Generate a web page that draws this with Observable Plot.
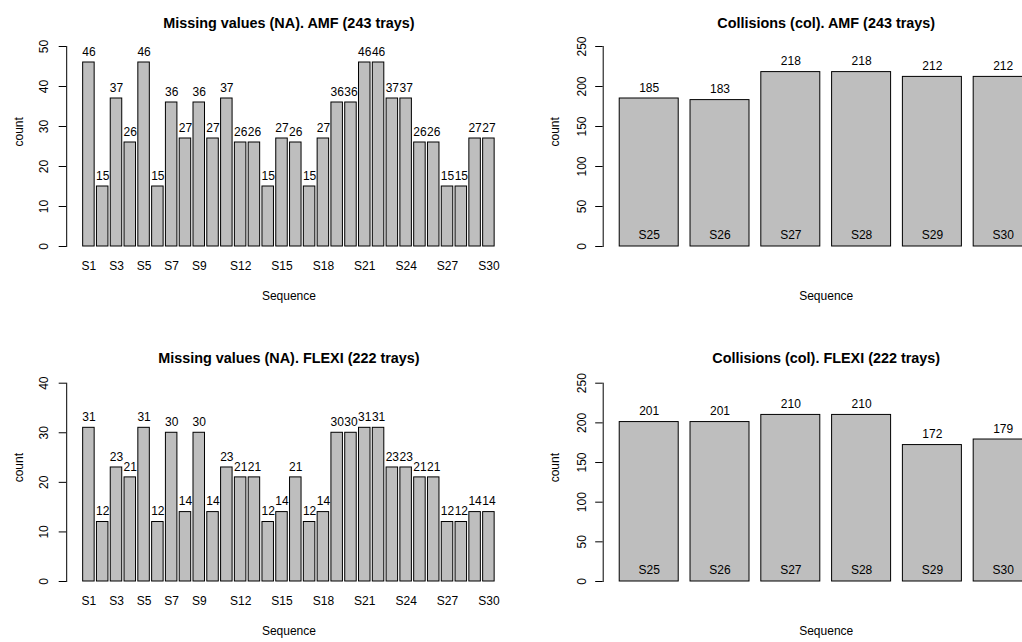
<!DOCTYPE html>
<html>
<head>
<meta charset="utf-8">
<script src="https://cdn.jsdelivr.net/npm/d3@7"></script>
<script src="https://cdn.jsdelivr.net/npm/@observablehq/plot@0.6"></script>
<style>
  html, body { margin: 0; padding: 0; background: #fff; }
  #wrap { position: relative; width: 1022px; height: 642px; overflow: hidden; background: #fff; }
  .panel { position: absolute; width: 520px; height: 321px; }
  .panel svg { max-width: none !important; }
</style>
</head>
<body>
<div id="wrap">
  <div class="panel" id="p1" style="left:0px;top:0px"></div>
  <div class="panel" id="p2" style="left:536px;top:0px"></div>
  <div class="panel" id="p3" style="left:0px;top:321px"></div>
  <div class="panel" id="p4" style="left:536px;top:321px"></div>
</div>
<script>
// ---- Data ----
const sequences = ["S1","S2","S3","S4","S5","S6","S7","S8","S9","S10",
  "S11","S12","S13","S14","S15","S16","S17","S18","S19","S20",
  "S21","S22","S23","S24","S25","S26","S27","S28","S29","S30"];
const amfNA = [46,15,37,26,46,15,36,27,36,27,37,26,26,15,27,26,15,27,36,36,46,46,37,37,26,26,15,15,27,27];
const flexiNA = [31,12,23,21,31,12,30,14,30,14,23,21,21,12,14,21,12,14,30,30,31,31,23,23,21,21,12,12,14,14];
const colSequences = ["S25","S26","S27","S28","S29","S30"];
const amfCol = [185,183,218,218,212,212];
const flexiCol = [201,201,210,210,172,179];
const naTickLabels = ["S1","S3","S5","S7","S9","S12","S15","S18","S21","S24","S27","S30"];
const amfNATicks = [0,10,20,30,40,50];
const flexiNATicks = [0,10,20,30,40];
const colTicks = [0,50,100,150,200,250];
const titleAmfNA = "Missing values (NA). AMF (243 trays)";
const titleAmfCol = "Collisions (col). AMF (243 trays)";
const titleFlexiNA = "Missing values (NA). FLEXI (222 trays)";
const titleFlexiCol = "Collisions (col). FLEXI (222 trays)";
const yLabel = "count";
const xLabel = "Sequence";

const FONT = "'Liberation Sans', Arial, Helvetica, sans-serif";

function panel(o) {
  const data = o.names.map((n, i) => ({name: n, value: o.values[i]}));
  const n = o.names.length;
  const po = 0.04 * (1.2 * n - 0.2) / 1.2;
  return Plot.plot({
    width: o.width, height: o.height,
    marginTop: o.mt, marginBottom: o.mb, marginLeft: o.ml, marginRight: o.mr,
    style: {fontFamily: FONT, fontSize: "12px", background: "white", color: "black", overflow: "visible", maxWidth: "none"},
    x: {type: "band", domain: o.names, paddingInner: 1/6, paddingOuter: po, round: false, axis: null},
    y: {domain: [0, o.yTicks[o.yTicks.length - 1]], axis: null},
    marks: [
      Plot.barY(data, {x: "name", y: "value", fill: "#bebebe", stroke: "#000", strokeWidth: 1}),
      Plot.text(data, {x: "name", y: "value", text: d => String(d.value), dy: -10.5, fontSize: 12, fill: "#000"}),
      Plot.axisY({ticks: o.yTicks, tickSize: 7.5, tickFormat: () => "", label: null, stroke: "#000"}),
      Plot.frame({anchor: "left", stroke: "#000"}),
      Plot.text(o.yTicks, {y: d => d, text: d => String(d), frameAnchor: "left", dx: o.tickDx, rotate: -90, textAnchor: "middle", fontSize: 12, fill: "#000"}),
      Plot.text([o.title], {frameAnchor: "top", dy: o.titleDy, text: d => d, fontWeight: "bold", fontSize: 14.4, fill: "#000"}),
      Plot.text([yLabel], {frameAnchor: "left", dx: -48, rotate: -90, text: d => d, fontSize: 12, fill: "#000"}),
      Plot.text([xLabel], {frameAnchor: "bottom", dy: 53, text: d => d, fontSize: 12, fill: "#000"}),
      Plot.text(o.xLabels, {x: d => d, text: d => d, frameAnchor: "bottom", dy: o.inside ? -7.5 : 23, fontSize: 12, fill: "#000"})
    ]
  });
}

const leftGeom = {width: 511, ml: 66.2, mr: 0.4, tickDx: -23};
const rightGeom = {width: 514, ml: 66.7, mr: 1.3, tickDx: -21};
const topGeom = {height: 321, mt: 46, mb: 75, titleDy: -29};
const botGeom = {height: 321, mt: 61.7, mb: 61, titleDy: -30};

document.getElementById("p1").append(panel({...leftGeom, ...topGeom,
  names: sequences, values: amfNA, yTicks: amfNATicks, xLabels: naTickLabels, inside: false, title: titleAmfNA}));
document.getElementById("p2").append(panel({...rightGeom, ...topGeom,
  names: colSequences, values: amfCol, yTicks: colTicks, xLabels: colSequences, inside: true, title: titleAmfCol}));
document.getElementById("p3").append(panel({...leftGeom, ...botGeom,
  names: sequences, values: flexiNA, yTicks: flexiNATicks, xLabels: naTickLabels, inside: false, title: titleFlexiNA}));
document.getElementById("p4").append(panel({...rightGeom, ...botGeom,
  names: colSequences, values: flexiCol, yTicks: colTicks, xLabels: colSequences, inside: true, title: titleFlexiCol}));
</script>
</body>
</html>
